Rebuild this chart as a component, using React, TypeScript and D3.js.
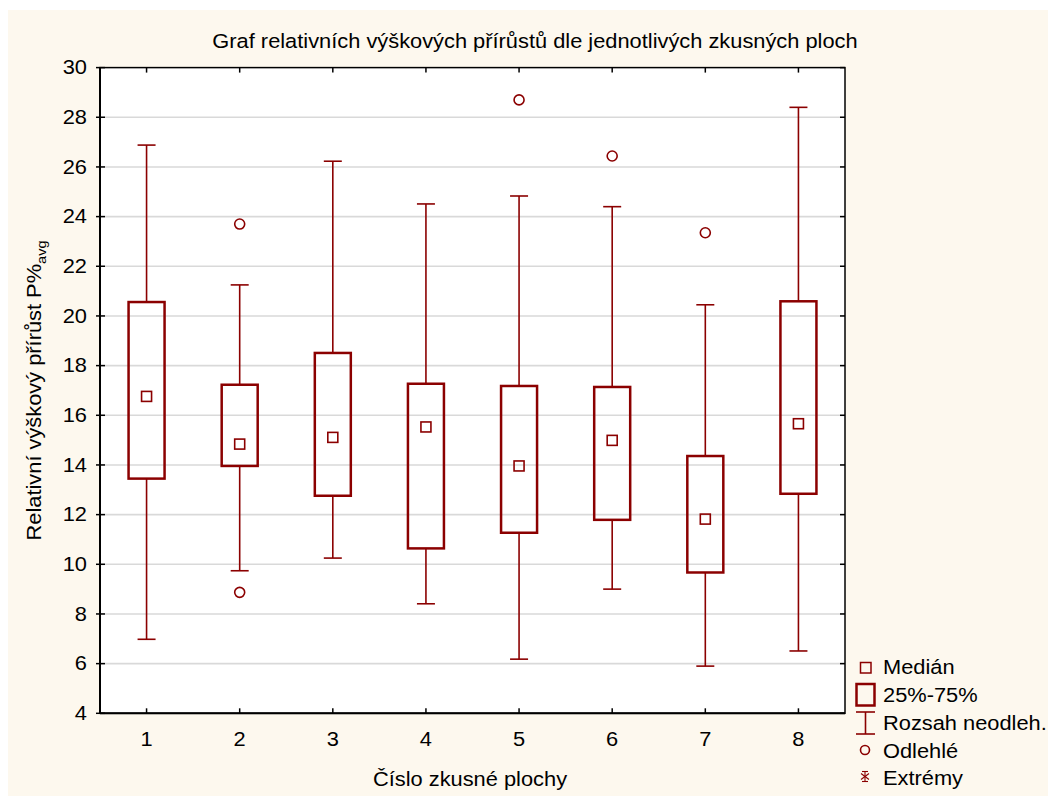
import React from "react";
import * as d3 from "d3";

const categories = ["1", "2", "3", "4", "5", "6", "7", "8"];
const whiskerLow = [6.98, 9.74, 10.25, 8.41, 6.18, 9.0, 5.9, 6.51];
const q1 = [13.45, 13.96, 12.76, 10.64, 11.27, 11.79, 9.67, 12.84];
const medians = [16.76, 14.84, 15.11, 15.53, 13.96, 14.99, 11.82, 15.66];
const q3 = [20.56, 17.23, 18.51, 17.27, 17.18, 17.14, 14.36, 20.59];
const whiskerHigh = [26.88, 21.25, 26.23, 24.51, 24.83, 24.4, 20.45, 28.4];
const outlierCats = ["2", "2", "5", "6", "7"];
const outlierValues = [23.7, 8.87, 28.7, 26.44, 23.35];
const yTicks = [4, 6, 8, 10, 12, 14, 16, 18, 20, 22, 24, 26, 28, 30];
const legendLabels = ["Medián", "25%-75%", "Rozsah neodleh.", "Odlehlé", "Extrémy"];

const RED = "#8b0000";
const FONT = "'Liberation Sans', Arial, sans-serif";
const FS = 19.5;
const SX = 1.12;

function T({ x, y, anchor = "start", rotate = 0, children, size = FS }: any) {
  return (
    <g transform={`translate(${x},${y}) rotate(${rotate}) scale(${SX},1)`}>
      <text x={0} y={0} dy={rotate ? 0 : "0.35em"} textAnchor={anchor} fontFamily={FONT} fontSize={size} fill="#000">
        {children}
      </text>
    </g>
  );
}

export default function App() {
  const left = 100, right = 845, top = 67.6, bottom = 713.3;
  const x = d3.scaleBand<string>().domain(categories).range([left, right]).paddingInner(0).paddingOuter(0);
  const y = d3.scaleLinear().domain([4, 30]).range([bottom, top]);
  const cx = (c: string) => (x(c) as number) + x.bandwidth() / 2;
  const boxW = 36, capW = 18, medS = 10;

  const legendRows = [667.5, 695.5, 723, 751, 778.5];

  return (
    <svg width={1048} height={786} style={{ display: "block", marginTop: 2 }}>
      <g transform="translate(-8,-10)">
        <rect x={8} y={10} width={1048} height={786} fill="#fdf8ee" />
        <rect x={left} y={top} width={right - left} height={bottom - top} fill="#ffffff" />
        {yTicks.slice(1, -1).map((t) => (
          <line key={"g" + t} x1={left} x2={right} y1={y(t)} y2={y(t)} stroke="#d9d9d9" strokeWidth={1.6} />
        ))}
        <rect x={left} y={top} width={right - left} height={bottom - top} fill="none" stroke="#000" strokeWidth={1.5} />
        <line x1={left} x2={left} y1={top} y2={bottom} stroke="#000" strokeWidth={2} />
        <line x1={left} x2={right} y1={bottom} y2={bottom} stroke="#000" strokeWidth={2} />
        {yTicks.map((t) => (
          <g key={"yt" + t}>
            <line x1={left - 4} x2={left + 5} y1={y(t)} y2={y(t)} stroke="#000" strokeWidth={1.5} />
            <line x1={right - 5} x2={right} y1={y(t)} y2={y(t)} stroke="#000" strokeWidth={1.5} />
            <T x={87} y={y(t)} anchor="end">{t}</T>
          </g>
        ))}
        {categories.map((c) => (
          <g key={"xt" + c}>
            <line x1={cx(c)} x2={cx(c)} y1={bottom} y2={bottom - 5} stroke="#000" strokeWidth={1.5} />
            <line x1={cx(c)} x2={cx(c)} y1={top} y2={top + 5} stroke="#000" strokeWidth={1.5} />
            <T x={cx(c)} y={739} anchor="middle">{c}</T>
          </g>
        ))}
        {categories.map((c, i) => {
          const xc = cx(c);
          return (
            <g key={"b" + c}>
              <line x1={xc} x2={xc} y1={y(whiskerHigh[i])} y2={y(q3[i])} stroke={RED} strokeWidth={1.6} />
              <line x1={xc} x2={xc} y1={y(q1[i])} y2={y(whiskerLow[i])} stroke={RED} strokeWidth={1.6} />
              <line x1={xc - capW / 2} x2={xc + capW / 2} y1={y(whiskerHigh[i])} y2={y(whiskerHigh[i])} stroke={RED} strokeWidth={1.6} />
              <line x1={xc - capW / 2} x2={xc + capW / 2} y1={y(whiskerLow[i])} y2={y(whiskerLow[i])} stroke={RED} strokeWidth={1.6} />
              <rect x={xc - boxW / 2} y={y(q3[i])} width={boxW} height={y(q1[i]) - y(q3[i])} fill="none" stroke={RED} strokeWidth={2.5} />
              <rect x={xc - medS / 2} y={y(medians[i]) - medS / 2} width={medS} height={medS} fill="none" stroke={RED} strokeWidth={1.6} />
            </g>
          );
        })}
        {outlierValues.map((v, i) => (
          <circle key={"o" + i} cx={cx(outlierCats[i])} cy={y(v)} r={5} fill="none" stroke={RED} strokeWidth={1.6} />
        ))}
        <T x={535} y={41} anchor="middle">
          Graf relativních výškových přírůstů dle jednotlivých zkusných ploch
        </T>
        <T x={470} y={779} anchor="middle">Číslo zkusné plochy</T>
        <T x={41} y={(top + bottom) / 2} anchor="middle" rotate={-90}>
          Relativní výškový přírůst P%
          <tspan fontSize={13} dy={5}>avg</tspan>
        </T>
        <rect x={860.5} y={legendRows[0] - 5} width={10.5} height={10.5} fill="none" stroke={RED} strokeWidth={1.5} />
        <rect x={856.5} y={legendRows[1] - 11.5} width={18} height={21.5} fill="none" stroke={RED} strokeWidth={2.5} />
        <g stroke={RED} strokeWidth={1.6}>
          <line x1={856} x2={875} y1={legendRows[2] - 11} y2={legendRows[2] - 11} />
          <line x1={856} x2={875} y1={legendRows[2] + 11} y2={legendRows[2] + 11} />
          <line x1={865.5} x2={865.5} y1={legendRows[2] - 11} y2={legendRows[2] + 11} />
        </g>
        <circle cx={865} cy={legendRows[3] - 1} r={4.5} fill="none" stroke={RED} strokeWidth={1.6} />
        <g stroke={RED} strokeWidth={1.1} transform={`translate(865,${legendRows[4] - 2})`}>
          <line x1={0} x2={0} y1={-5} y2={5} />
          <line x1={-4} x2={4} y1={-3} y2={3} />
          <line x1={-4} x2={4} y1={3} y2={-3} />
          <line x1={-3} x2={3} y1={-5} y2={-5} />
          <line x1={-3} x2={3} y1={5} y2={5} />
        </g>
        {legendLabels.map((l, i) => (
          <T key={l} x={883} y={legendRows[i]}>{l}</T>
        ))}
      </g>
    </svg>
  );
}
